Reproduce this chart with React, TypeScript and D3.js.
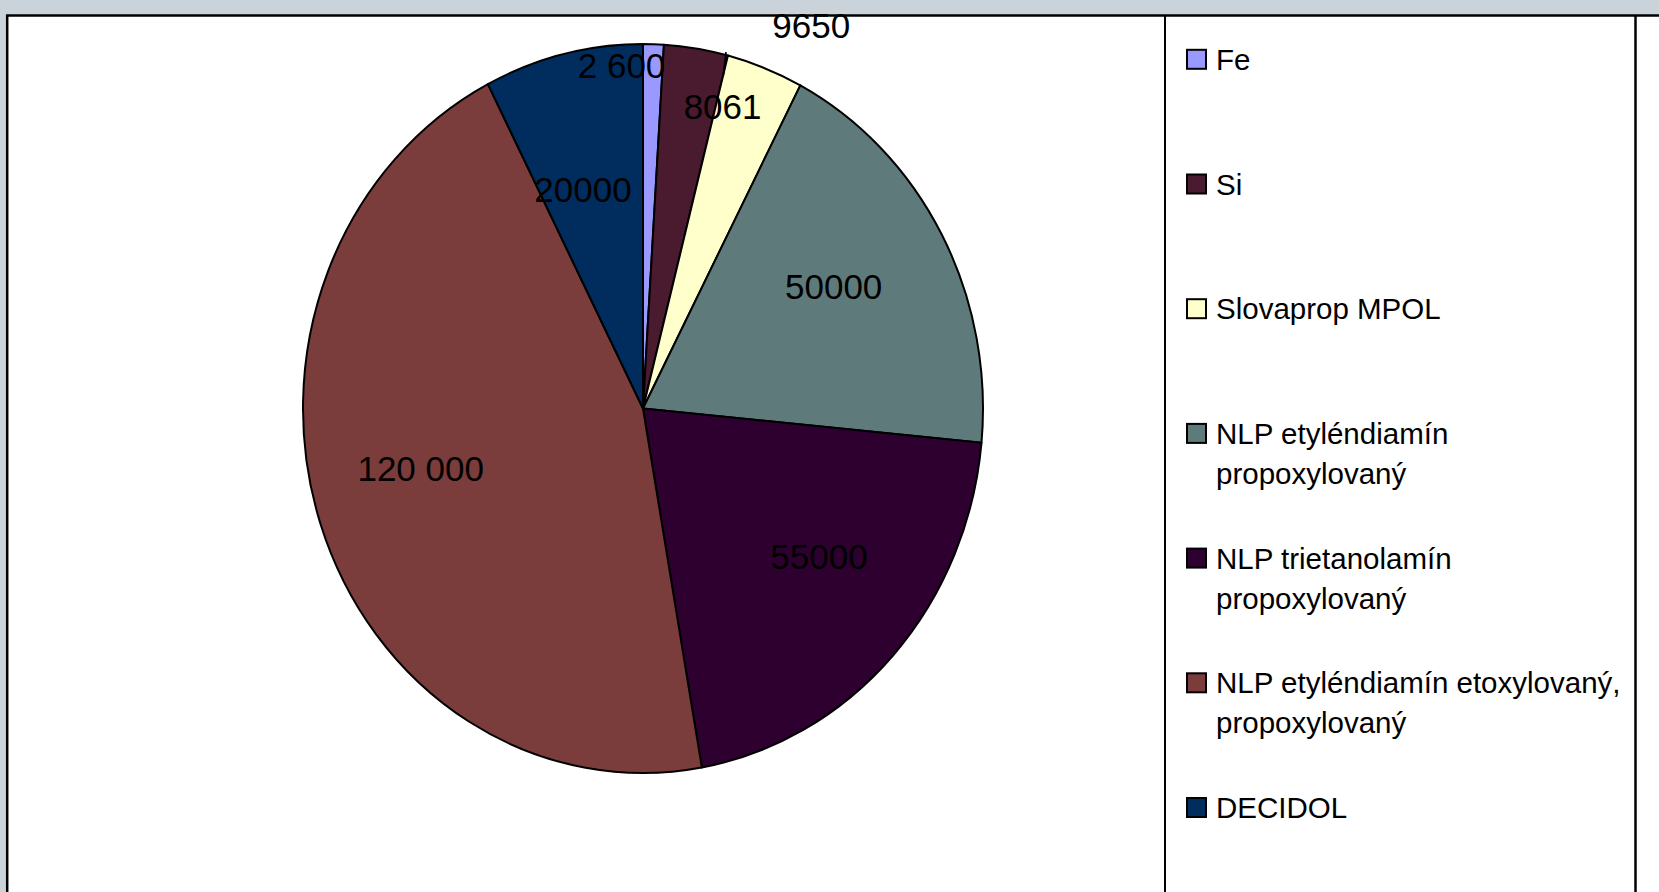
import React from "react";
import * as d3 from "d3";

// Slice data, in drawing order (clockwise from 12 o'clock)
const categories: string[] = [
  "Fe",
  "Si",
  "Slovaprop MPOL",
  "NLP etyléndiamín propoxylovaný",
  "NLP trietanolamín propoxylovaný",
  "NLP etyléndiamín etoxylovaný, propoxylovaný",
  "DECIDOL",
];
const values: number[] = [2600, 8061, 9650, 50000, 55000, 120000, 20000];
const valueLabels: string[] = ["2 600", "8061", "9650", "50000", "55000", "120 000", "20000"];
const colors: string[] = ["#9999ff", "#4a1a2e", "#ffffcc", "#5f7a7b", "#2e0030", "#7b3c3c", "#002d5e"];

// Legend entries, wrapped the way the legend box shows them
const legendLines: string[][] = [
  ["Fe"],
  ["Si"],
  ["Slovaprop MPOL"],
  ["NLP etyléndiamín", "propoxylovaný"],
  ["NLP trietanolamín", "propoxylovaný"],
  ["NLP etyléndiamín etoxylovaný,", "propoxylovaný"],
  ["DECIDOL"],
];

// Label placement relative to each slice: angle shift (deg) and radius fraction
const labelShiftDeg: number[] = [-5.6, 6.8, 4.2, -2.3, -4.6, 4.5, -2.8];
const labelRadius: number[] = [0.943, 0.86, 1.162, 0.653, 0.658, 0.674, 0.626];

const W = 1659;
const H = 892;
const CX = 643;
const CY = 408.5;
const R = 340;
const SY = 1.072; // vertical stretch of the pie
const BG = "#c9d3d9";
const FONT = "'Liberation Sans', Arial, Helvetica, sans-serif";

export default function App() {
  const pie = d3
    .pie<number>()
    .sort(null)
    .value((d) => d)
    .startAngle(0)
    .endAngle(2 * Math.PI);
  const arcs = pie(values);
  const arc = d3.arc<d3.PieArcDatum<number>>().innerRadius(0).outerRadius(R);

  const polar = (angle: number, r: number): [number, number] => [
    CX + r * Math.sin(angle),
    CY - r * Math.cos(angle) * SY,
  ];

  const labelFont = 35;
  const legendFont = 29.5;
  const legendTop = 59.3;
  const legendStep = 124.7;
  const legendLineGap = 40;

  // short leader tick on the Slovaprop slice
  const slov = arcs[2];
  const lead0 = polar(slov.startAngle - (0.45 * Math.PI) / 180, R * 1.008);
  const lead1 = polar(slov.startAngle + (0.02 * Math.PI) / 180, R * 0.944);

  return (
    <svg
      width={W}
      height={H}
      style={{ position: "fixed", left: 0, top: 0, display: "block" }}
      fontFamily={FONT}
    >
      <rect x={0} y={0} width={W} height={H} fill={BG} />
      <rect x={7} y={16} width={W - 7} height={H - 16} fill="#ffffff" />
      {/* frame lines */}
      <line x1={6} y1={15.5} x2={W} y2={15.5} stroke="#000" strokeWidth={2.5} />
      <line x1={7.2} y1={15} x2={7.2} y2={H} stroke="#000" strokeWidth={2.5} />

      {/* pie */}
      <g transform={`translate(${CX},${CY}) scale(1,${SY})`}>
        {arcs.map((a, i) => (
          <path
            key={categories[i]}
            d={arc(a) || ""}
            fill={colors[i]}
            stroke="#000"
            strokeWidth={2}
            strokeLinejoin="round"
            vectorEffect="non-scaling-stroke"
          />
        ))}
      </g>
      <line x1={lead0[0]} y1={lead0[1]} x2={lead1[0]} y2={lead1[1]} stroke="#000" strokeWidth={1.8} />

      {/* value labels */}
      {arcs.map((a, i) => {
        const mid = (a.startAngle + a.endAngle) / 2 + (labelShiftDeg[i] * Math.PI) / 180;
        const [x, y] = polar(mid, R * labelRadius[i]);
        return (
          <text
            key={"lab" + i}
            x={x}
            y={y}
            dy="0.36em"
            textAnchor="middle"
            fontSize={labelFont}
            fill="#000"
          >
            {valueLabels[i]}
          </text>
        );
      })}

      {/* legend box */}
      <line x1={1165} y1={15} x2={1165} y2={H} stroke="#000" strokeWidth={2} />
      <line x1={1635.5} y1={15} x2={1635.5} y2={H} stroke="#000" strokeWidth={2.5} />
      {legendLines.map((lines, i) => {
        const yc = legendTop + i * legendStep;
        return (
          <g key={"leg" + i}>
            <rect
              x={1187}
              y={yc - 9.5}
              width={19}
              height={19}
              fill={colors[i]}
              stroke="#000"
              strokeWidth={2}
            />
            {lines.map((t, j) => (
              <text
                key={j}
                x={1216}
                y={yc + j * legendLineGap}
                dy="0.36em"
                fontSize={legendFont}
                fill="#000"
              >
                {t}
              </text>
            ))}
          </g>
        );
      })}
    </svg>
  );
}
